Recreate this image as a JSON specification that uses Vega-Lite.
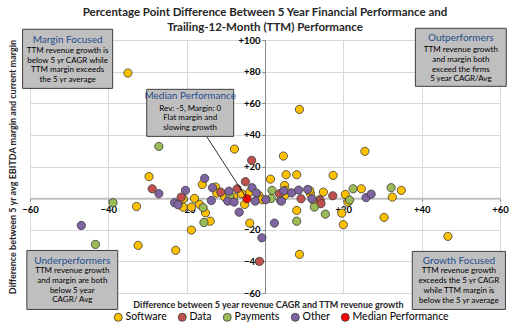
{
  "$schema": "https://vega.github.io/schema/vega-lite/v6.json",
  "width": 470,
  "height": 253,
  "autosize": {"type": "none"},
  "padding": {"left": 30, "top": 40, "right": 20, "bottom": 34},
  "background": "white",
  "config": {
    "view": {"stroke": null},
    "font": "Lato",
    "axis": {
      "grid": true,
      "gridColor": "#D9D9D9",
      "gridWidth": 1,
      "labelFont": "Lato",
      "labelFontWeight": "bold",
      "labelFontSize": 9.5,
      "labelColor": "#000000",
      "tickColor": "#868686",
      "tickSize": 3,
      "labelOverlap": false,
      "labelFlush": false,
      "titleFont": "Lato",
      "titleFontWeight": "bold",
      "titleFontSize": 9,
      "titleColor": "#262626"
    }
  },
  "title": {
    "text": ["Percentage Point Difference Between 5 Year Financial Performance and", "Trailing-12-Month (TTM) Performance"],
    "anchor": "middle",
    "font": "Lato",
    "fontSize": 11.5,
    "fontWeight": "bold",
    "color": "#262626",
    "lineHeight": 15,
    "offset": 3,
    "dy": 9
  },
  "datasets": {
    "points": [
      {"x": -35.0, "y": 79.1, "c": "Software"}, {"x": 8.8, "y": 56.1, "c": "Software"}, {"x": -7.8, "y": 31.0, "c": "Software"}, {"x": 4.7, "y": 26.6, "c": "Software"}, {"x": 25.5, "y": 29.6, "c": "Software"}, {"x": -29.6, "y": 13.6, "c": "Software"}, {"x": 1.4, "y": 12.0, "c": "Software"}, {"x": 5.4, "y": 14.8, "c": "Software"}, {"x": 8.1, "y": 14.8, "c": "Software"}, {"x": 17.4, "y": 14.4, "c": "Software"}, {"x": -16.0, "y": 8.6, "c": "Software"}, {"x": 5.0, "y": 8.0, "c": "Software"}, {"x": -12.6, "y": 7.0, "c": "Software"}, {"x": -12.3, "y": 3.2, "c": "Software"}, {"x": -6.0, "y": 2.8, "c": "Software"}, {"x": -8.0, "y": 0.6, "c": "Software"}, {"x": -18.0, "y": -0.2, "c": "Software"}, {"x": -18.8, "y": -5.7, "c": "Software"}, {"x": -16.7, "y": -4.0, "c": "Software"}, {"x": -15.2, "y": -9.3, "c": "Software"}, {"x": -5.2, "y": -4.0, "c": "Software"}, {"x": -1.6, "y": 1.7, "c": "Software"}, {"x": -0.7, "y": -1.0, "c": "Software"}, {"x": -3.9, "y": -15.8, "c": "Software"}, {"x": -18.8, "y": -20.2, "c": "Software"}, {"x": -14.0, "y": -14.6, "c": "Software"}, {"x": -22.8, "y": -33.0, "c": "Software"}, {"x": -32.8, "y": -5.3, "c": "Software"}, {"x": -32.4, "y": -29.9, "c": "Software"}, {"x": 5.2, "y": 4.9, "c": "Software"}, {"x": 11.6, "y": 2.8, "c": "Software"}, {"x": 14.9, "y": 3.8, "c": "Software"}, {"x": 13.9, "y": -1.0, "c": "Software"}, {"x": 20.5, "y": 2.3, "c": "Software"}, {"x": 24.6, "y": 5.9, "c": "Software"}, {"x": 21.2, "y": -2.5, "c": "Software"}, {"x": 8.1, "y": -7.8, "c": "Software"}, {"x": 19.6, "y": -9.5, "c": "Software"}, {"x": 20.0, "y": -16.8, "c": "Software"}, {"x": 30.4, "y": -12.2, "c": "Software"}, {"x": 8.8, "y": -35.6, "c": "Software"}, {"x": 34.8, "y": 4.9, "c": "Software"}, {"x": 32.5, "y": 0.6, "c": "Software"}, {"x": 46.7, "y": -24.2, "c": "Software"}, {"x": -20.9, "y": -0.4, "c": "Software"}, {"x": -10.3, "y": 0.6, "c": "Software"}, {"x": -3.9, "y": 3.8, "c": "Software"}, {"x": 5.0, "y": 1.7, "c": "Software"}, {"x": 12.7, "y": -2.5, "c": "Software"}, {"x": -20.9, "y": -5.7, "c": "Software"}, {"x": 11.4, "y": 4.9, "c": "Software"},
      {"x": -28.8, "y": 5.9, "c": "Data"}, {"x": -21.4, "y": 0.6, "c": "Data"}, {"x": -11.3, "y": 3.8, "c": "Data"}, {"x": -7.1, "y": 5.9, "c": "Data"}, {"x": -5.0, "y": 10.4, "c": "Data"}, {"x": -3.4, "y": 23.9, "c": "Data"}, {"x": 3.7, "y": 2.8, "c": "Data"}, {"x": 9.2, "y": -0.4, "c": "Data"}, {"x": 14.1, "y": -1.5, "c": "Data"}, {"x": 14.3, "y": -3.5, "c": "Data"}, {"x": 17.3, "y": 1.5, "c": "Data"}, {"x": -1.4, "y": -40.0, "c": "Data"},
      {"x": -27.1, "y": 32.7, "c": "Payments"}, {"x": -38.8, "y": -2.9, "c": "Payments"}, {"x": -43.3, "y": -29.3, "c": "Payments"}, {"x": -15.8, "y": -6.0, "c": "Payments"}, {"x": -15.6, "y": -15.4, "c": "Payments"}, {"x": -9.0, "y": 1.1, "c": "Payments"}, {"x": 1.8, "y": 4.9, "c": "Payments"}, {"x": 1.6, "y": -0.2, "c": "Payments"}, {"x": 4.0, "y": -1.5, "c": "Payments"}, {"x": 12.6, "y": -5.7, "c": "Payments"}, {"x": 8.1, "y": -14.6, "c": "Payments"}, {"x": 15.4, "y": -10.1, "c": "Payments"}, {"x": 22.5, "y": 5.9, "c": "Payments"}, {"x": 21.6, "y": -1.2, "c": "Payments"}, {"x": 32.2, "y": 6.6, "c": "Payments"},
      {"x": -46.9, "y": -17.3, "c": "Other"}, {"x": -27.1, "y": 2.8, "c": "Other"}, {"x": -23.1, "y": -2.9, "c": "Other"}, {"x": -22.2, "y": -4.2, "c": "Other"}, {"x": -20.3, "y": 4.9, "c": "Other"}, {"x": -15.4, "y": 12.5, "c": "Other"}, {"x": -13.4, "y": 6.6, "c": "Other"}, {"x": -13.7, "y": -1.5, "c": "Other"}, {"x": -9.2, "y": 4.4, "c": "Other"}, {"x": -9.5, "y": -1.9, "c": "Other"}, {"x": -7.9, "y": -2.5, "c": "Other"}, {"x": -6.6, "y": -8.9, "c": "Other"}, {"x": -3.3, "y": 6.6, "c": "Other"}, {"x": -2.2, "y": 3.2, "c": "Other"}, {"x": -2.5, "y": -1.9, "c": "Other"}, {"x": -0.8, "y": -25.1, "c": "Other"}, {"x": 0.2, "y": -1.0, "c": "Other"}, {"x": 4.8, "y": 4.6, "c": "Other"}, {"x": 4.2, "y": -1.9, "c": "Other"}, {"x": 6.8, "y": 3.3, "c": "Other"}, {"x": 8.6, "y": 5.1, "c": "Other"}, {"x": 10.9, "y": 5.5, "c": "Other"}, {"x": 12.0, "y": -0.5, "c": "Other"}, {"x": 2.4, "y": -15.8, "c": "Other"}, {"x": 25.8, "y": 0.3, "c": "Other"}, {"x": 27.1, "y": 2.5, "c": "Other"},
      {"x": -4.6, "y": -0.4, "c": "Median Performance"}
    ],
    "boxes": [
      {"x": -61.9, "xe": -38.9, "y": 106.8, "ye": 69.4},
      {"x": 38.4, "xe": 61.6, "y": 107.4, "ye": 70.7},
      {"x": -60.8, "xe": -37.6, "y": -33.1, "ye": -70.4},
      {"x": 37.6, "xe": 61.4, "y": -33.7, "ye": -70.4},
      {"x": -30.2, "xe": -8.0, "y": 68.8, "ye": 39.05}
    ],
    "titles": [
      {"x": -50.4, "y": 99.8, "t": "Margin Focused"},
      {"x": 50.0, "y": 101.5, "t": "Outperformers"},
      {"x": -49.2, "y": -39.9, "t": "Underperformers"},
      {"x": 49.5, "y": -39.9, "t": "Growth Focused"},
      {"x": -19.1, "y": 64.4, "t": "Median Performance"}
    ],
    "bodies": [
      {"x": -50.4, "y": 93.0, "t": "TTM revenue growth is\nbelow 5 yr CAGR while\nTTM margin exceeds\nthe 5 yr average"},
      {"x": 50.0, "y": 93.5, "t": "TTM revenue growth\nand margin both\nexceed the firms\n5 year CAGR/Avg"},
      {"x": -49.2, "y": -46.2, "t": "TTM revenue growth\nand margin are both\nbelow 5 year\nCAGR/ Avg"},
      {"x": 49.5, "y": -46.4, "t": "TTM revenue growth\nexceeds the 5 yr CAGR\nwhile TTM margin is\nbelow the 5 yr average"},
      {"x": -19.1, "y": 56.6, "t": "Rev: -5, Margin: 0\nFlat margin and\nslowing growth"}
    ],
    "leader": [
      {"x": -14.9, "y": 39.0, "xe": -4.6, "ye": -0.4}
    ]
  },
  "encoding": {
    "x": {
      "field": "x", "type": "quantitative",
      "scale": {"domain": [-60, 60], "nice": false, "zero": false},
      "axis": {
        "orient": "bottom",
        "offset": -94.875,
        "values": [-60, -40, -20, 0, 20, 40, 60],
        "labelExpr": "datum.value > 0 ? '+' + datum.value : (datum.value == 0 ? '' : datum.label)",
        "domainColor": "#BFBFBF",
        "domainWidth": 2,
        "labelPadding": 3,
        "title": "Difference between 5 year revenue CAGR and TTM revenue growth",
        "titleX": 238,
        "titleY": 106,
        "titleBaseline": "middle"
      }
    },
    "y": {
      "field": "y", "type": "quantitative",
      "scale": {"domain": [-60, 100], "nice": false, "zero": false},
      "axis": {
        "orient": "left",
        "offset": -235,
        "values": [-60, -40, -20, 0, 20, 40, 60, 80, 100],
        "labelExpr": "datum.value > 0 ? '+' + datum.value : (datum.value == 0 ? '' : datum.label)",
        "domainColor": "#868686",
        "domainWidth": 1,
        "labelPadding": 2,
        "title": "Difference between 5 yr avg EBITDA margin and current margin",
        "titleX": -253,
        "titleY": 126.5,
        "titleAngle": -90,
        "titleBaseline": "middle"
      }
    }
  },
  "layer": [
    {
      "data": {"name": "points"},
      "mark": {"type": "point", "shape": "circle", "filled": true, "size": 68, "opacity": 1, "stroke": "#3A3A3A", "strokeWidth": 0.8},
      "encoding": {
        "color": {
          "field": "c", "type": "nominal",
          "scale": {"domain": ["Software", "Data", "Payments", "Other", "Median Performance"], "range": ["#FFC000", "#C0504D", "#9BBB59", "#8064A2", "#FF0000"]},
          "legend": {
            "title": null,
            "orient": "none",
            "direction": "horizontal",
            "legendX": 83,
            "legendY": 272,
            "symbolType": "circle",
            "symbolSize": 64,
            "symbolStrokeColor": "#3A3A3A",
            "symbolStrokeWidth": 0.8,
            "labelFont": "Lato",
            "labelFontSize": 10.5,
            "labelColor": "#000000",
            "labelOffset": 2,
            "columnPadding": 9,
            "padding": 0
          }
        }
      }
    },
    {
      "data": {"name": "leader"},
      "mark": {"type": "rule", "color": "#000000", "strokeWidth": 0.8},
      "encoding": {
        "x2": {"field": "xe"},
        "y2": {"field": "ye"}
      }
    },
    {
      "data": {"name": "boxes"},
      "mark": {"type": "rect", "fill": "#BFBFBF", "stroke": "#3F3F3F", "strokeWidth": 1, "clip": false},
      "encoding": {
        "x2": {"field": "xe"},
        "y2": {"field": "ye"}
      }
    },
    {
      "data": {"name": "titles"},
      "mark": {"type": "text", "align": "center", "baseline": "middle", "font": "Lato", "fontSize": 10, "color": "#1F4E8C"},
      "encoding": {
        "text": {"field": "t"}
      }
    },
    {
      "data": {"name": "bodies"},
      "mark": {"type": "text", "align": "center", "baseline": "middle", "font": "Lato", "fontSize": 8, "lineHeight": 9.7, "lineBreak": "\n", "color": "#000000"},
      "encoding": {
        "text": {"field": "t"}
      }
    }
  ]
}
